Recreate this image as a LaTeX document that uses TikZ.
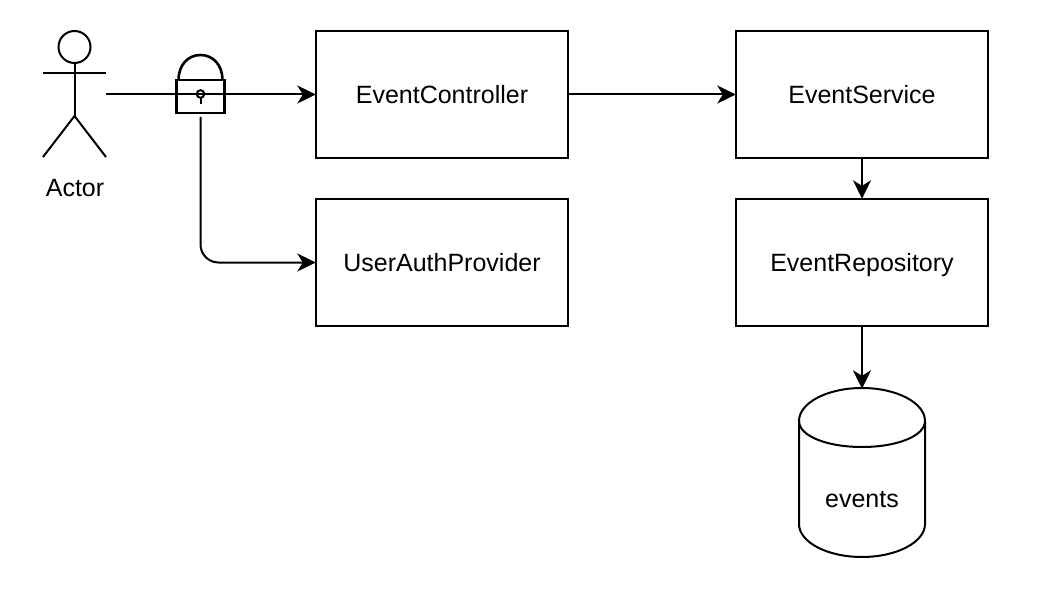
\documentclass[tikz,border=0pt]{standalone}
\usepackage{fontspec}
\setmainfont{Liberation Sans}
\usetikzlibrary{arrows.meta}
\tikzset{
  x=1pt,y=-1pt,
  every node/.style={font=\fontsize{25}{29}\selectfont,text=black},
  line/.style={line width=2pt,draw=black},
  boxnode/.style={line,rectangle,minimum width=252pt,minimum height=127pt,inner sep=0pt,anchor=center,text height=17.5pt,text depth=0pt},
  flow/.style={line,-{Stealth[length=18.5pt,width=18pt,inset=5.5pt]},shorten >=-0.8pt},
  free/.style={inner sep=0pt,outer sep=0pt}
}
\begin{document}
\begin{tikzpicture}
\useasboundingbox (0,0) rectangle (1037,591);
\fill[white] (0,0) rectangle (1037,591);
% boxes
\node[boxnode] (ctrl) at (442,94.5) {EventController};
\node[boxnode] (auth) at (442,262.5) {UserAuthProvider};
\node[boxnode] (svc) at (862,94.5) {EventService};
\node[boxnode] (repo) at (862,262.5) {EventRepository};
% actor
\draw[line] (74.5,47) circle (16);
\draw[line] (43,73) -- (106,73);
\draw[line] (74.5,63) -- (74.5,116);
\draw[line] (43,157) -- (74.5,116) -- (106,157);
\node[free] (actor) at (75,188) {Actor};
% database
\draw[line,line join=round] (799,421)
  .. controls (799,403) and (827,388) .. (862,388)
  .. controls (897,388) and (925,403) .. (925,421)
  -- (925,524)
  .. controls (925,542) and (897,557) .. (862,557)
  .. controls (827,557) and (799,542) .. (799,524)
  -- cycle;
\draw[line] (799,421)
  .. controls (799,436) and (827,447) .. (862,447)
  .. controls (897,447) and (925,436) .. (925,421);
\node[free] (events) at (862,500) {events};
\coordinate (dbtop) at (862,388);
% connectors
\coordinate (actorout) at (106,94.5);
\coordinate (lockbottom) at (200.5,117);
\draw[flow] (actorout) -- (ctrl.west);
\draw[flow] (ctrl.east) -- (svc.west);
\draw[flow] (svc.south) -- (repo.north);
\draw[flow] (repo.south) -- (dbtop);
\draw[flow,rounded corners=18pt] (lockbottom) |- (auth.west);
% lock
\draw[line,line width=2.6pt] (176.5,80) rectangle (224.5,113);
\draw[line,line width=2.6pt] (178.5,80) .. controls (178.5,65) and (188,55) .. (200.5,55)
  .. controls (213,55) and (222.5,65) .. (222.5,80);
\draw[line] (200.5,94) circle (3.8);
\draw[line] (200.5,98) -- (200.5,104);
\end{tikzpicture}
\end{document}
